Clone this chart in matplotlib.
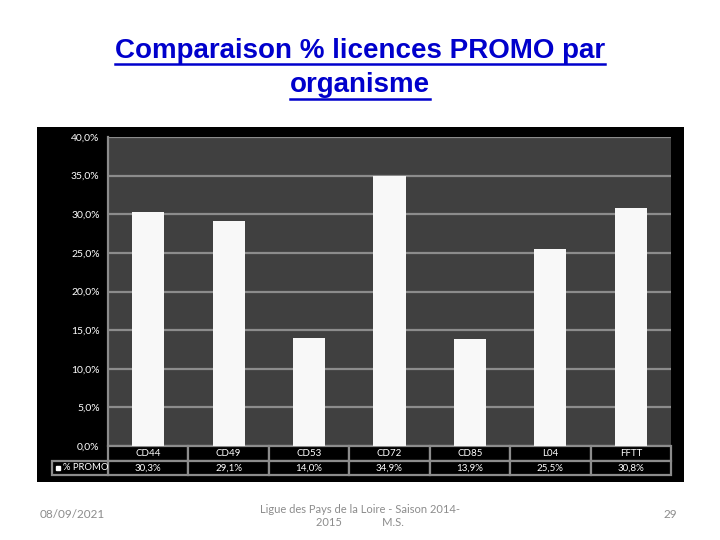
import matplotlib.pyplot as plt
import matplotlib.transforms as mtransforms
from matplotlib.patches import Rectangle
from matplotlib.lines import Line2D

categories = ['CD44', 'CD49', 'CD53', 'CD72', 'CD85', 'L04', 'FFTT']
promo = [30.3, 29.1, 14.0, 34.9, 13.9, 25.5, 30.8]
promo_labels = ['30,3%', '29,1%', '14,0%', '34,9%', '13,9%', '25,5%', '30,8%']
yticks = [0, 5, 10, 15, 20, 25, 30, 35, 40]
ytick_labels = ['0,0%', '5,0%', '10,0%', '15,0%', '20,0%', '25,0%', '30,0%', '35,0%', '40,0%']

W, H = 720, 540
fig = plt.figure(figsize=(7.2, 5.4), dpi=100)
fig.patch.set_facecolor('white')

def px(x0, y0, x1, y1):
    # pixel box (top-left origin) -> figure fraction rect
    return [x0 / W, 1 - y1 / H, (x1 - x0) / W, (y1 - y0) / H]

# black background panel of the chart
bg = fig.add_axes(px(37, 127, 684, 482), zorder=-1)
bg.set_facecolor('black')
bg.set_xticks([])
bg.set_yticks([])
for s in bg.spines.values():
    s.set_visible(False)

ax = fig.add_axes(px(108, 137, 671, 446))
ax.set_facecolor('#404040')
x = list(range(len(categories)))
ax.bar(x, promo, width=0.4, color='#f8f8f8', zorder=3)
ax.set_xlim(-0.5, len(categories) - 0.5)
ax.set_ylim(0, 40)
ax.set_yticks(yticks)
ax.set_yticklabels(ytick_labels, color='white', fontsize=7.5, family='Lato')
ax.tick_params(axis='y', length=0, pad=6)
ax.set_xticks([])
ax.grid(axis='y', color='#8c8c8c', linewidth=1.6, zorder=1)
ax.set_axisbelow(True)
for s in ['top', 'right', 'bottom']:
    ax.spines[s].set_visible(False)
ax.spines['left'].set_color('#8c8c8c')
ax.spines['left'].set_linewidth(1.6)

# data table under the plot
tr = mtransforms.blended_transform_factory(ax.transData, ax.transAxes)
h1 = 15 / 309
h2 = 14 / 309
for i, (cat, lab) in enumerate(zip(categories, promo_labels)):
    ax.add_patch(Rectangle((i - 0.5, -h1), 1, h1, transform=tr, facecolor='black',
                           edgecolor='#8c8c8c', linewidth=1.6, clip_on=False))
    ax.add_patch(Rectangle((i - 0.5, -h1 - h2), 1, h2, transform=tr, facecolor='black',
                           edgecolor='#8c8c8c', linewidth=1.6, clip_on=False))
    ax.text(i, -h1 / 2, cat, transform=tr, ha='center', va='center',
            color='white', fontsize=7, family='Lato')
    ax.text(i, -h1 - h2 / 2, lab, transform=tr, ha='center', va='center',
            color='white', fontsize=7, family='Lato')
xl = -0.5 - 56 / 80.4
ax.add_patch(Rectangle((xl, -h1 - h2), -0.5 - xl, h2, transform=tr, facecolor='black',
                       edgecolor='#8c8c8c', linewidth=1.6, clip_on=False))
ax.plot([xl + 0.075], [-h1 - h2 / 2], marker='s', markersize=3, color='white',
        transform=tr, clip_on=False)
ax.text(xl + 0.135, -h1 - h2 / 2, '% PROMO', transform=tr, ha='left', va='center',
        color='white', fontsize=6.8, family='Lato')

# title, underlined
t1 = fig.text(0.5, 1 - 51 / H, 'Comparaison % licences PROMO par', ha='center', va='center',
              color='#0000cc', fontsize=20, fontweight='bold', family='Liberation Sans')
t2 = fig.text(0.5, 1 - 85 / H, 'organisme', ha='center', va='center',
              color='#0000cc', fontsize=20, fontweight='bold', family='Liberation Sans')
fig.canvas.draw()
r = fig.canvas.get_renderer()
for t, uy in [(t1, 64), (t2, 99)]:
    bb = t.get_window_extent(r)
    fig.add_artist(Line2D([bb.x0 / W, bb.x1 / W], [1 - uy / H, 1 - uy / H],
                          transform=fig.transFigure, color='#0000cc', linewidth=1.8))

# footer
fig.text(72 / W, 1 - 515 / H, '08/09/2021', ha='center', va='center',
         color='#8c8c8c', fontsize=8.5, family='Lato')
fig.text(360 / W, 1 - 516 / H, 'Ligue des Pays de la Loire - Saison 2014-\n2015              M.S.',
         ha='center', va='center', color='#8c8c8c', fontsize=8, family='Lato',
         linespacing=1.3)
fig.text(670 / W, 1 - 515 / H, '29', ha='center', va='center',
         color='#8c8c8c', fontsize=8.5, family='Lato')

plt.savefig('out.png', dpi=100)
